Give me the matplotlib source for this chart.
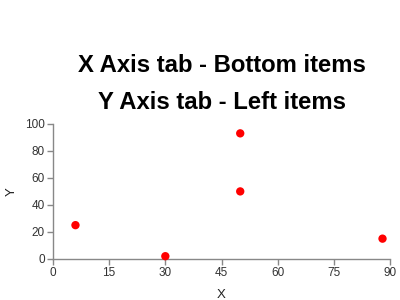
import matplotlib
matplotlib.use("Agg")
import matplotlib.pyplot as plt

plt.rcParams['font.family'] = ['Liberation Sans', 'DejaVu Sans']

x_vals = [6, 30, 50, 50, 88]
y_vals = [25, 2, 93, 50, 15]
x_ticks = [0, 15, 30, 45, 60, 75, 90]
y_ticks = [0, 20, 40, 60, 80, 100]
title_lines = ["X Axis tab - Bottom items", "Y Axis tab - Left items"]

fig = plt.figure(figsize=(4, 3), dpi=100)
ax = fig.add_axes([0.1325, 0.137, 0.8425, 0.45])
ax.scatter(x_vals, y_vals, s=36, color='#ff0000', edgecolors='none', zorder=3, clip_on=False)
ax.set_xlim(0, 90)
ax.set_ylim(0, 100)
ax.set_xticks(x_ticks)
ax.set_yticks(y_ticks)
for s in ['top', 'right']:
    ax.spines[s].set_visible(False)
for s in ['left', 'bottom']:
    ax.spines[s].set_color('#888888')
    ax.spines[s].set_linewidth(1.0)
ax.tick_params(axis='both', colors='#888888', labelcolor='#333333', labelsize=8.5, length=4, width=1, pad=2)
ax.set_xlabel("X", fontsize=9.5, color='#222222', labelpad=7)
ax.set_ylabel("Y", fontsize=9.5, color='#222222', va='center')
ax.yaxis.set_label_coords(-(53 - 12) / 337, 0.5)

cx = 0.1325 + 0.8425 / 2
fig.text(cx, 1 - 65/300, title_lines[0], ha='center', va='center', fontsize=17.2, fontweight='bold', color='black')
fig.text(cx, 1 - 102/300, title_lines[1], ha='center', va='center', fontsize=17.2, fontweight='bold', color='black')

fig.savefig("out.png", dpi=100)
